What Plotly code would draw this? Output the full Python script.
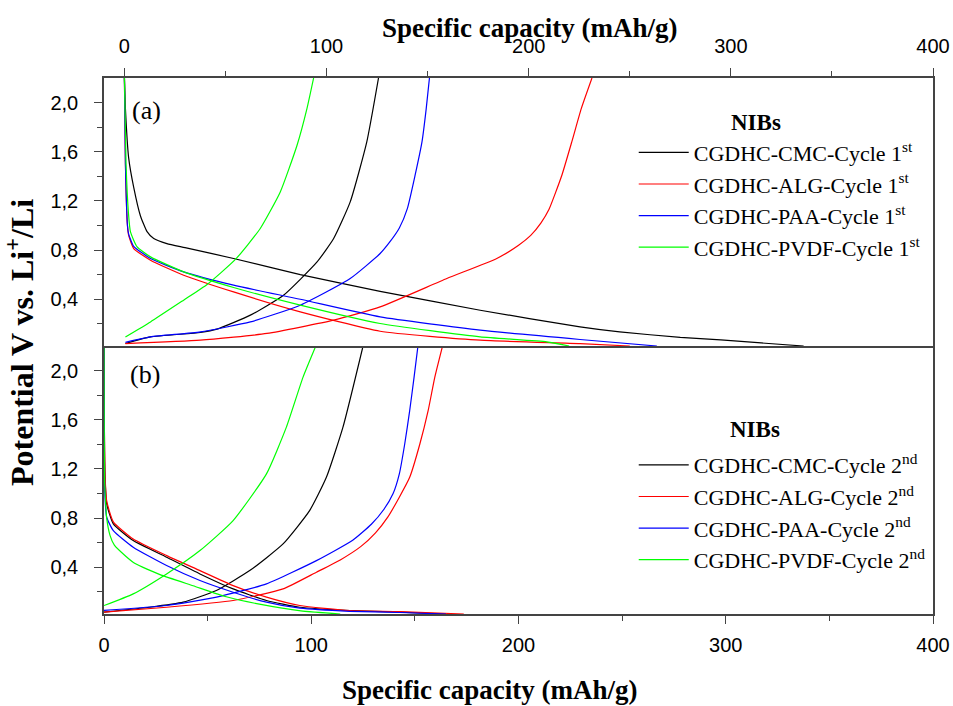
import plotly.graph_objects as go

# ---------------- data (capacity in mAh/g, potential in V) ----------------
# Panel (a): cycle 1
cmc1_dis_cap = [0, 0.5, 2.1, 4.6, 7.9, 11.2, 14.5, 21, 30, 54, 87, 126.5, 176, 225.4, 245, 275, 295, 315, 336]
cmc1_dis_v   = [2.2, 1.95, 1.55, 1.31, 1.08, 0.95, 0.894, 0.853, 0.82, 0.732, 0.60, 0.465, 0.311, 0.176, 0.135, 0.09, 0.07, 0.045, 0.02]
cmc1_ch_cap  = [0.5, 12.9, 37.6, 45.8, 62.3, 78.7, 95.3, 103.5, 111.7, 119.9, 125.7]
cmc1_ch_v    = [0.04, 0.094, 0.13, 0.157, 0.271, 0.433, 0.704, 0.894, 1.192, 1.68, 2.2]

alg1_dis_cap = [0, 0.5, 1.5, 2.1, 4.6, 12.9, 29.3, 54, 87, 126.5, 176, 225.4, 250]
alg1_dis_v   = [2.2, 1.5, 1.0, 0.92, 0.813, 0.718, 0.596, 0.46, 0.298, 0.14, 0.067, 0.04, 0.02]
alg1_ch_cap  = [0.5, 37.6, 70.5, 103.5, 126.5, 159.5, 184.2, 195, 201, 206, 210, 216.4, 221.3, 226.0, 231.3]
alg1_ch_v    = [0.04, 0.067, 0.122, 0.23, 0.338, 0.569, 0.732, 0.84, 0.92, 1.02, 1.13, 1.409, 1.68, 1.951, 2.2]

paa1_dis_cap = [0, 0.5, 1.5, 2.1, 4.6, 12.9, 29.3, 54, 87, 126.5, 176, 225.4, 263.4]
paa1_dis_v   = [2.2, 1.5, 1.0, 0.93, 0.83, 0.732, 0.623, 0.515, 0.40, 0.257, 0.149, 0.073, 0.02]
paa1_ch_cap  = [0.5, 12.9, 37.6, 62.3, 87, 111.7, 126.5, 131, 136, 140, 143.8, 147.2, 149.3, 150.9]
paa1_ch_v    = [0.05, 0.094, 0.135, 0.216, 0.352, 0.569, 0.772, 0.86, 0.98, 1.14, 1.409, 1.68, 1.951, 2.2]

pvdf1_dis_cap = [0, 0.8, 2.0, 3.0, 6.3, 12.9, 29.3, 54, 87, 126.5, 176, 209, 220]
pvdf1_dis_v   = [2.2, 1.5, 1.1, 0.948, 0.826, 0.745, 0.623, 0.496, 0.352, 0.203, 0.094, 0.054, 0.02]
pvdf1_ch_cap  = [0.5, 12.9, 29.3, 40.9, 54.9, 67.2, 77.1, 85.4, 90.3, 93.6]
pvdf1_ch_v    = [0.094, 0.216, 0.393, 0.52, 0.724, 0.976, 1.273, 1.653, 1.951, 2.2]

# Panel (b): cycle 2
cmc2_dis_cap = [0, 0.2, 0.5, 1.3, 4.5, 14.1, 30.2, 46.3, 62.3, 78.4, 94.5, 118.6, 142.7, 165]
cmc2_dis_v   = [2.2, 1.5, 1.135, 0.915, 0.753, 0.617, 0.482, 0.346, 0.224, 0.13, 0.075, 0.048, 0.035, 0.02]
cmc2_ch_cap  = [0, 22, 38.2, 54.2, 70.3, 86.4, 99.2, 107.3, 115.3, 125]
cmc2_ch_v    = [0.035, 0.075, 0.116, 0.211, 0.373, 0.59, 0.861, 1.132, 1.54, 2.2]

alg2_dis_cap = [0, 0.2, 0.5, 1.3, 4.5, 14.1, 30.2, 46.3, 62.3, 78.4, 94.5, 118.6, 142.7, 173.6]
alg2_dis_v   = [2.2, 1.5, 1.15, 0.94, 0.77, 0.63, 0.495, 0.373, 0.251, 0.157, 0.089, 0.048, 0.04, 0.02]
alg2_ch_cap  = [0, 30.2, 62.3, 86.4, 102.5, 114, 124, 131, 137, 142.5, 147.5, 152.4, 156.4, 159.6, 163.6]
alg2_ch_v    = [0.035, 0.075, 0.13, 0.224, 0.36, 0.46, 0.57, 0.68, 0.81, 0.97, 1.132, 1.403, 1.674, 1.945, 2.216]

paa2_dis_cap = [0, 0.15, 0.4, 1.3, 4.5, 14.1, 30.2, 46.3, 62.3, 78.4, 94.5, 118.6, 142.7, 165]
paa2_dis_v   = [2.2, 1.4, 1.0, 0.807, 0.698, 0.563, 0.414, 0.292, 0.197, 0.116, 0.067, 0.042, 0.032, 0.02]
paa2_ch_cap  = [0, 30.2, 54.3, 78.4, 102.5, 120, 129, 135, 139.5, 142.5, 145.1, 147.5, 149.6, 151.6]
paa2_ch_v    = [0.05, 0.089, 0.157, 0.265, 0.454, 0.62, 0.75, 0.87, 1.0, 1.16, 1.403, 1.674, 1.945, 2.216]

pvdf2_dis_cap = [0, 0.1, 0.3, 0.8, 1.3, 2.9, 5, 10.5, 15, 27, 43, 59, 75, 95, 114]
pvdf2_dis_v   = [2.2, 1.6, 1.1, 0.92, 0.8, 0.66, 0.58, 0.49, 0.43, 0.34, 0.25, 0.16, 0.1, 0.045, 0.02]
pvdf2_ch_cap  = [0, 14.1, 30.2, 46.3, 62.3, 78.4, 88, 96, 102.2]
pvdf2_ch_v    = [0.089, 0.184, 0.346, 0.536, 0.78, 1.16, 1.54, 1.945, 2.2]

names1 = ["CGDHC-CMC-Cycle 1<sup>st</sup>", "CGDHC-ALG-Cycle 1<sup>st</sup>",
          "CGDHC-PAA-Cycle 1<sup>st</sup>", "CGDHC-PVDF-Cycle 1<sup>st</sup>"]
names2 = ["CGDHC-CMC-Cycle 2<sup>nd</sup>", "CGDHC-ALG-Cycle 2<sup>nd</sup>",
          "CGDHC-PAA-Cycle 2<sup>nd</sup>", "CGDHC-PVDF-Cycle 2<sup>nd</sup>"]
colors = ["#000000", "#FF0000", "#0000FF", "#00FF00"]

y_tickvals = [0.4, 0.8, 1.2, 1.6, 2.0]
y_ticktext = ["0,4", "0,8", "1,2", "1,6", "2,0"]
x_tickvals = [0, 100, 200, 300, 400]
x_ticktext = ["0", "100", "200", "300", "400"]

series1 = [(cmc1_dis_cap, cmc1_dis_v, cmc1_ch_cap, cmc1_ch_v),
           (alg1_dis_cap, alg1_dis_v, alg1_ch_cap, alg1_ch_v),
           (paa1_dis_cap, paa1_dis_v, paa1_ch_cap, paa1_ch_v),
           (pvdf1_dis_cap, pvdf1_dis_v, pvdf1_ch_cap, pvdf1_ch_v)]
series2 = [(cmc2_dis_cap, cmc2_dis_v, cmc2_ch_cap, cmc2_ch_v),
           (alg2_dis_cap, alg2_dis_v, alg2_ch_cap, alg2_ch_v),
           (paa2_dis_cap, paa2_dis_v, paa2_ch_cap, paa2_ch_v),
           (pvdf2_dis_cap, pvdf2_dis_v, pvdf2_ch_cap, pvdf2_ch_v)]

SERIF = "Liberation Serif, Times New Roman, serif"
SANS = "Liberation Sans, Arial, sans-serif"

fig = go.Figure()

def add_series(series, names, xa, ya, leg):
    for (dc, dv, cc, cv), name, col in zip(series, names, colors):
        x = list(dc) + [None] + list(cc)
        y = list(dv) + [None] + list(cv)
        fig.add_trace(go.Scatter(x=x, y=y, mode="lines", name=name,
                                 line=dict(color=col, width=1.2, shape="spline", smoothing=0.5),
                                 connectgaps=False, xaxis=xa, yaxis=ya, legend=leg))

add_series(series1, names1, "x2", "y2", "legend")
add_series(series2, names2, "x", "y", "legend2")

common = dict(showline=True, linecolor="#444444", linewidth=1.5,
              showgrid=False, zeroline=False, ticks="outside", ticklen=8, tickwidth=1.2,
              tickcolor="#444444", tickfont=dict(family=SANS, size=20, color="black"))
x_minor = dict(dtick=50, ticks="outside", ticklen=5, tickcolor="#444444")
y_minor = dict(tickvals=[0.2, 0.6, 1.0, 1.4, 1.8], ticks="outside", ticklen=5, tickcolor="#444444")

legend_common = dict(xanchor="left", yanchor="top", bgcolor="rgba(0,0,0,0)",
                     font=dict(family=SERIF, size=22, color="black"), itemwidth=50)

fig.update_layout(
    width=953, height=706,
    margin=dict(l=104, r=20, t=78, b=92, autoexpand=False),
    paper_bgcolor="white", plot_bgcolor="white",
    showlegend=True,
    xaxis=dict(domain=[0, 1], anchor="y", range=[0, 400], tickvals=x_tickvals, ticktext=x_ticktext,
               mirror=False, minor=x_minor, ticklabelstandoff=4, **common),
    yaxis=dict(domain=[0, 0.5], anchor="x", range=[0.02, 2.2], tickvals=y_tickvals, ticktext=y_ticktext,
               mirror=True, minor=y_minor, ticklabelstandoff=12, **common),
    xaxis2=dict(domain=[0, 1], anchor="y2", side="top", range=[-10.1, 400], tickvals=x_tickvals,
                ticktext=x_ticktext, mirror=True, minor=x_minor, ticklabelstandoff=7, **common),
    yaxis2=dict(domain=[0.5, 1], anchor="x2", range=[0.02, 2.2], tickvals=y_tickvals, ticktext=y_ticktext,
                mirror=True, minor=y_minor, ticklabelstandoff=12, **common),
    legend=dict(x=0.639, y=0.9, **legend_common),
    legend2=dict(x=0.639, y=0.317, **legend_common),
    annotations=[
        dict(text="<b>Specific capacity (mAh/g)</b>", xref="paper", yref="paper", x=0.5136, y=1.093,
             xanchor="center", yanchor="middle", showarrow=False, font=dict(family=SERIF, size=27, color="black")),
        dict(text="<b>Specific capacity (mAh/g)</b>", xref="paper", yref="paper", x=0.4653, y=-0.1418,
             xanchor="center", yanchor="middle", showarrow=False, font=dict(family=SERIF, size=27, color="black")),
        dict(text="<b>Potential V vs. Li<sup>+</sup>/Li</b>", xref="paper", yref="paper", x=-0.1013, y=0.5056,
             xanchor="center", yanchor="middle", textangle=-90, showarrow=False,
             font=dict(family=SERIF, size=32, color="black")),
        dict(text="(a)", xref="paper", yref="paper", x=0.0507, y=0.9385,
             xanchor="center", yanchor="middle", showarrow=False, font=dict(family=SERIF, size=26, color="black")),
        dict(text="(b)", xref="paper", yref="paper", x=0.0495, y=0.4459,
             xanchor="center", yanchor="middle", showarrow=False, font=dict(family=SERIF, size=26, color="black")),
        dict(text="<b>NIBs</b>", xref="paper", yref="paper", x=0.7867, y=0.9166,
             xanchor="center", yanchor="middle", showarrow=False, font=dict(family=SERIF, size=23, color="black")),
        dict(text="<b>NIBs</b>", xref="paper", yref="paper", x=0.7848, y=0.3447,
             xanchor="center", yanchor="middle", showarrow=False, font=dict(family=SERIF, size=23, color="black")),
    ],
)

fig.write_html("out.html", config={"displayModeBar": False},
               post_script="document.body.style.margin='0';")
